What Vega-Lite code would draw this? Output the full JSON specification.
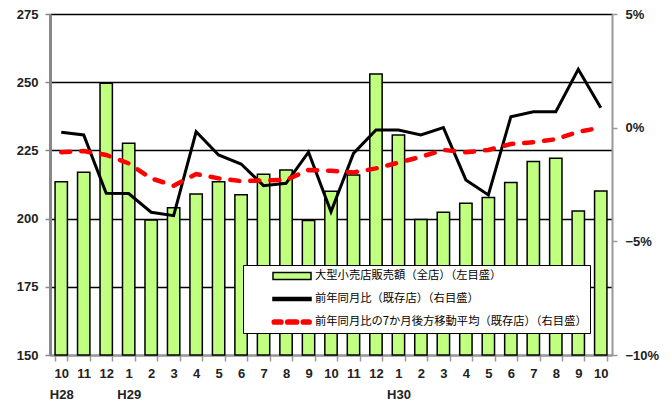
{
  "$schema": "https://vega.github.io/schema/vega-lite/v6.json",
  "width": 562,
  "height": 341,
  "autosize": {"type": "none"},
  "padding": {"left": 50, "top": 14, "right": 60, "bottom": 50},
  "config": {
    "view": {"stroke": null},
    "font": "Liberation Sans",
    "legend": {"symbolOpacity": 1},
    "axis": {
      "labelFont": "Liberation Sans",
      "labelFontWeight": "bold",
      "labelFontSize": 13,
      "labelColor": "#222222",
      "title": null
    }
  },
  "data": {
    "values": [
      {"key": "H28-10", "sales": 213.5, "yoy": -0.2, "ma": -1.08},
      {"key": "H28-11", "sales": 217.0, "yoy": -0.32, "ma": -1.03},
      {"key": "H28-12", "sales": 249.6, "yoy": -2.89, "ma": -1.2},
      {"key": "H29-1", "sales": 227.6, "yoy": -2.9, "ma": -1.57},
      {"key": "H29-2", "sales": 199.5, "yoy": -3.72, "ma": -2.23},
      {"key": "H29-3", "sales": 204.0, "yoy": -3.87, "ma": -2.55},
      {"key": "H29-4", "sales": 209.0, "yoy": -0.18, "ma": -2.04},
      {"key": "H29-5", "sales": 213.5, "yoy": -1.2, "ma": -2.23},
      {"key": "H29-6", "sales": 208.7, "yoy": -1.6, "ma": -2.35},
      {"key": "H29-7", "sales": 216.3, "yoy": -2.55, "ma": -2.32},
      {"key": "H29-8", "sales": 217.8, "yoy": -2.45, "ma": -2.3},
      {"key": "H29-9", "sales": 199.3, "yoy": -1.08, "ma": -1.86},
      {"key": "H29-10", "sales": 210.0, "yoy": -3.7, "ma": -1.9},
      {"key": "H29-11", "sales": 216.0, "yoy": -1.13, "ma": -1.97},
      {"key": "H29-12", "sales": 253.0, "yoy": -0.1, "ma": -1.79},
      {"key": "H30-1", "sales": 230.6, "yoy": -0.1, "ma": -1.54},
      {"key": "H30-2", "sales": 199.7, "yoy": -0.32, "ma": -1.28},
      {"key": "H30-3", "sales": 202.3, "yoy": 0.0, "ma": -0.98},
      {"key": "H30-4", "sales": 205.6, "yoy": -2.3, "ma": -1.08},
      {"key": "H30-5", "sales": 207.7, "yoy": -2.96, "ma": -0.98},
      {"key": "H30-6", "sales": 213.2, "yoy": 0.48, "ma": -0.72},
      {"key": "H30-7", "sales": 220.9, "yoy": 0.7, "ma": -0.64},
      {"key": "H30-8", "sales": 222.1, "yoy": 0.7, "ma": -0.51},
      {"key": "H30-9", "sales": 202.8, "yoy": 2.57, "ma": -0.18},
      {"key": "H30-10", "sales": 210.1, "yoy": 0.88, "ma": 0.0}
    ]
  },
  "encoding": {
    "x": {
      "field": "key",
      "type": "ordinal",
      "sort": null,
      "scale": {"paddingInner": 0.45, "paddingOuter": 0.225},
      "axis": {
        "labelAngle": 0,
        "labelExpr": "(split(datum.value, '-')[1] == '1' || datum.value == 'H28-10') ? [split(datum.value, '-')[1], split(datum.value, '-')[0]] : split(datum.value, '-')[1]",
        "labelLineHeight": 21,
        "labelPadding": 6,
        "tickBand": "extent",
        "tickColor": "#999999",
        "tickSize": 6,
        "tickWidth": 1.5,
        "domainColor": "#999999",
        "domainWidth": 2,
        "grid": false
      }
    }
  },
  "layer": [
    {
      "mark": {"type": "bar", "strokeWidth": 1.5},
      "encoding": {
        "y": {
          "field": "sales",
          "type": "quantitative",
          "scale": {"domain": [150, 275], "nice": false, "zero": false},
          "axis": {
            "orient": "left",
            "values": [150, 175, 200, 225, 250, 275],
            "grid": true,
            "gridColor": "black",
            "gridWidth": 1.5,
            "domainColor": "#888888",
            "domainWidth": 3,
            "tickColor": "#888888",
            "tickSize": 5,
            "tickWidth": 1.5,
            "labelPadding": 7
          }
        },
        "y2": {"datum": 150},
        "fill": {
          "datum": "大型小売店販売額（全店）（左目盛）",
          "type": "nominal",
          "scale": {
            "domain": [
              "大型小売店販売額（全店）（左目盛）",
              "前年同月比（既存店）（右目盛）",
              "前年同月比の7か月後方移動平均（既存店）（右目盛）"
            ],
            "range": ["#c0ff80", "#000000", "#ff0000"]
          },
          "legend": {
            "orient": "none",
            "legendX": 193,
            "legendY": 251,
            "title": null,
            "direction": "vertical",
            "fillColor": "white",
            "strokeColor": "black",
            "padding": 3,
            "rowPadding": 7,
            "clipHeight": 16,
            "symbolSize": 144,
            "symbolOffset": 39,
            "symbolStrokeWidth": 1.5,
            "labelOffset": 16,
            "labelLimit": 400,
            "labelFont": "Noto Sans CJK JP",
            "labelFontSize": 11.3,
            "labelColor": "black",
            "labelExpr": "datum.label + '　 '"
          }
        },
        "stroke": {
          "datum": "大型小売店販売額（全店）（左目盛）",
          "type": "nominal",
          "scale": {
            "domain": [
              "大型小売店販売額（全店）（左目盛）",
              "前年同月比（既存店）（右目盛）",
              "前年同月比の7か月後方移動平均（既存店）（右目盛）"
            ],
            "range": ["#000000", "#000000", "#ff0000"]
          }
        }
      }
    },
    {
      "layer": [
        {
          "mark": {"type": "line", "strokeWidth": 3},
          "encoding": {
            "y": {
              "field": "yoy",
              "type": "quantitative",
              "scale": {"domain": [-10, 5], "nice": false, "zero": false},
              "axis": {
                "orient": "right",
                "values": [-10, -5, 0, 5],
                "format": "d",
                "labelExpr": "datum.label + '%'",
                "grid": false,
                "domainColor": "#999999",
                "domainWidth": 2,
                "tickColor": "#999999",
                "tickSize": 5,
                "tickWidth": 1.5,
                "labelPadding": 8
              }
            },
            "stroke": {"datum": "前年同月比（既存店）（右目盛）", "type": "nominal"}
          }
        },
        {
          "mark": {"type": "line", "strokeWidth": 4.5, "strokeDash": [9, 11], "strokeCap": "round"},
          "encoding": {
            "y": {"field": "ma", "type": "quantitative"},
            "stroke": {"datum": "前年同月比の7か月後方移動平均（既存店）（右目盛）", "type": "nominal"}
          }
        }
      ]
    },
    {
      "mark": {"type": "point", "opacity": 0},
      "encoding": {
        "shape": {
          "datum": "大型小売店販売額（全店）（左目盛）",
          "type": "nominal",
          "scale": {
            "domain": [
              "大型小売店販売額（全店）（左目盛）",
              "前年同月比（既存店）（右目盛）",
              "前年同月比の7か月後方移動平均（既存店）（右目盛）"
            ],
            "range": [
              "M-3.167,-0.583H3.167V0.583H-3.167Z",
              "M-3.167,-0.25H3.167V0.25H-3.167Z",
              "M-2.95,-0.35H-1.85A0.35,0.35,0,0,1,-1.85,0.35H-2.95A0.35,0.35,0,0,1,-2.95,-0.35Z M-0.7,-0.35H0.75A0.35,0.35,0,0,1,0.75,0.35H-0.7A0.35,0.35,0,0,1,-0.7,-0.35Z M1.9,-0.35H2.85A0.35,0.35,0,0,1,2.85,0.35H1.9A0.35,0.35,0,0,1,1.9,-0.35Z"
            ]
          }
        }
      }
    }
  ],
  "resolve": {"scale": {"y": "independent"}}
}
